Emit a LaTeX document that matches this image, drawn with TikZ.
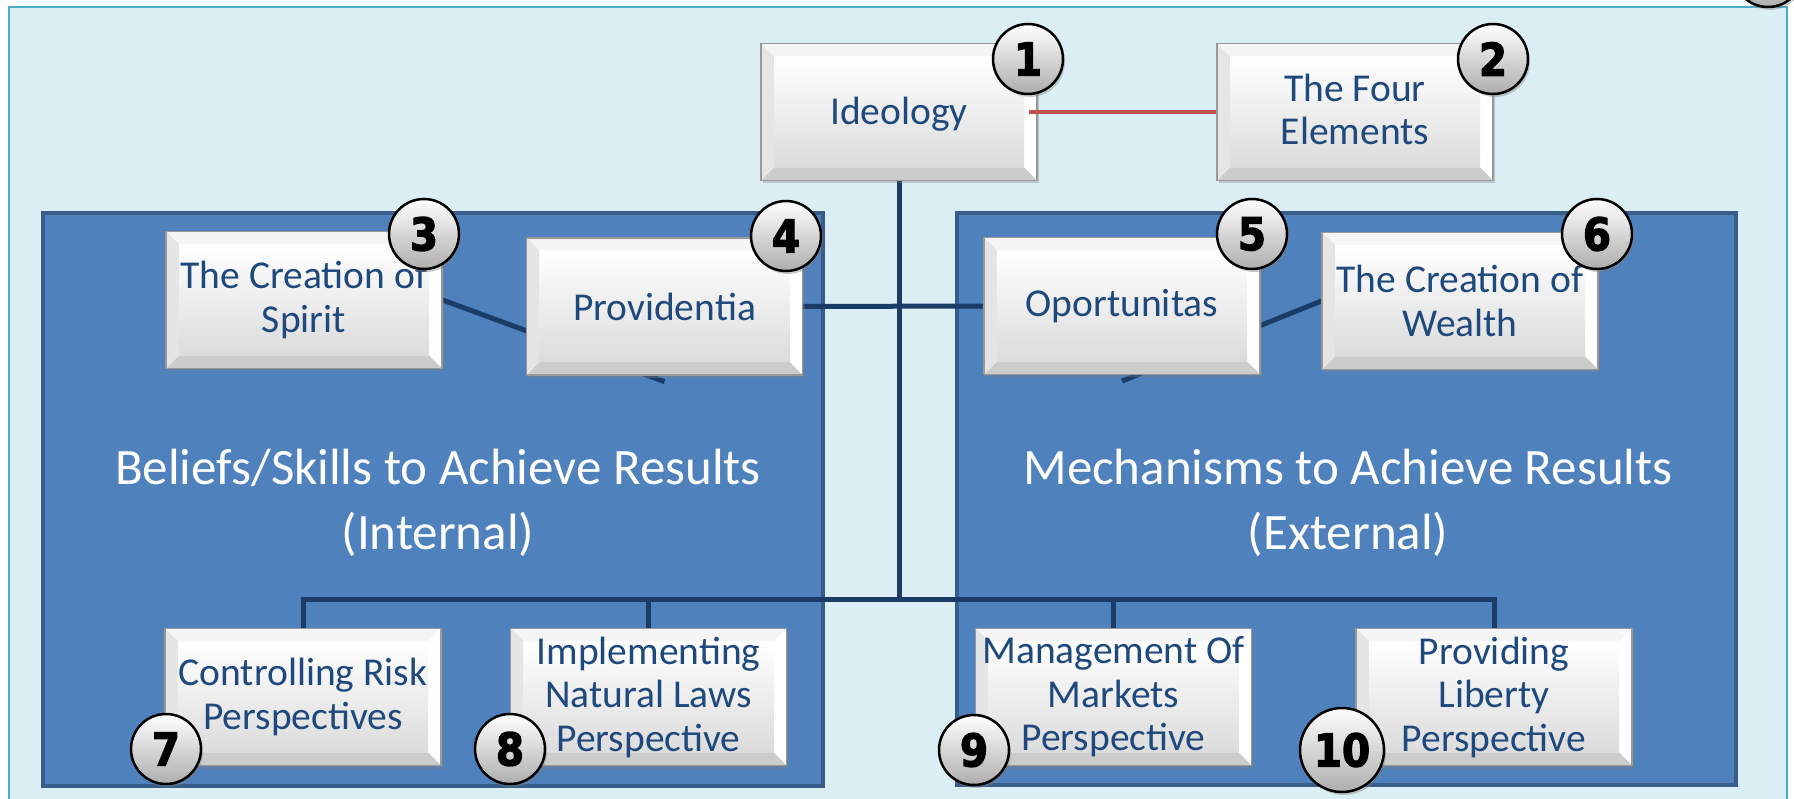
\documentclass[tikz,border=0pt]{standalone}
\usepackage{fontspec}
\usepackage{graphicx}
\setmainfont{Carlito}
\newfontfamily\numfont{DejaVu Sans Bold}[FakeBold=3]
\usetikzlibrary{shadows,calc}
\definecolor{bgfill}{RGB}{218,238,243}
\definecolor{bgline}{RGB}{75,172,198}
\definecolor{panelfill}{RGB}{79,129,189}
\definecolor{panelline}{RGB}{56,93,138}
\definecolor{trunkc}{RGB}{28,60,104}
\definecolor{redc}{RGB}{192,80,77}
\definecolor{boxtext}{RGB}{31,73,125}
\newcommand\boxfont{\fontsize{39.5}{43.5}\selectfont}
\newcommand\titlefont{\fontsize{51}{65}\selectfont}
\newcommand\numstyle{\fontsize{45}{45}\selectfont\numfont}
\newcommand\dg[1]{\scalebox{0.9}[1]{#1}}
\newcommand\lowr[1]{\raisebox{-2.5pt}[\height][\depth]{#1}}
\pgfdeclarelayer{bg}
\pgfdeclarelayer{links}
\pgfsetlayers{bg,links,main}
\tikzset{
  bevelbox/.style={rectangle, draw=black!40, line width=1.2pt, fill=black!8,
    minimum width=276pt, minimum height=137pt, inner sep=0pt, align=center,
    text=boxtext, font=\boxfont,
    drop shadow={shadow xshift=2pt, shadow yshift=-3pt, opacity=0.35},
    path picture={
      \path (path picture bounding box.south west) coordinate (bbsw)
            (path picture bounding box.north east) coordinate (bbne)
            (path picture bounding box.north west) coordinate (bbnw)
            (path picture bounding box.south east) coordinate (bbse);
      \fill[black!4] (bbnw) -- (bbne) -- ([xshift=-13pt,yshift=-13pt]bbne) -- ([xshift=13pt,yshift=-13pt]bbnw) -- cycle;
      \fill[white] (bbne) -- (bbse) -- ([xshift=-13pt,yshift=13pt]bbse) -- ([xshift=-13pt,yshift=-13pt]bbne) -- cycle;
      \fill[black!20] (bbse) -- (bbsw) -- ([xshift=13pt,yshift=13pt]bbsw) -- ([xshift=-13pt,yshift=13pt]bbse) -- cycle;
      \fill[black!10] (bbsw) -- (bbnw) -- ([xshift=13pt,yshift=-13pt]bbnw) -- ([xshift=13pt,yshift=13pt]bbsw) -- cycle;
      \shade[top color=white, bottom color=black!14] ([xshift=13pt,yshift=13pt]bbsw) rectangle ([xshift=-13pt,yshift=-13pt]bbne);
    }},
  badge/.style={circle, draw=black, line width=2.5pt, minimum size=70pt, inner sep=0pt,
    top color=white, bottom color=black!32, font=\numstyle,
    drop shadow={shadow xshift=2pt, shadow yshift=-3pt, opacity=0.4}},
  panel/.style={rectangle, fill=panelfill, draw=panelline, line width=3.5pt, inner sep=0pt},
  paneltitle/.style={align=center, text=white, font=\titlefont},
  trunk/.style={draw=trunkc, line width=5pt},
  redlink/.style={draw=redc, line width=4pt}
}
\begin{document}
\begin{tikzpicture}[x=1pt,y=-1pt]
\useasboundingbox (0,0) rectangle (1794,799);
\begin{pgfonlayer}{bg}
  \fill[bgfill] (9,7) rectangle (1787,830);
  \draw[bgline, line width=2pt] (9,7) rectangle (1787,830);
  \node[panel, minimum width=780pt, minimum height=573pt] (lpanel) at (433,499.5) {};
  \node[panel, minimum width=779pt, minimum height=572pt] (rpanel) at (1346.5,499) {};
\end{pgfonlayer}

\node[paneltitle] (ltitle) at (438,503) {Beliefs/Skills to Achieve Results\\(Internal)};
\node[paneltitle] (rtitle) at (1348,503) {Mechanisms to Achieve Results\\(External)};

% boxes
\node[bevelbox] (ideo)   at (899,112)   {\lowr{Ideology}};
\node[bevelbox] (four)   at (1355,112) {\lowr{\begin{tabular}{@{}c@{}}The Four\\Elements\end{tabular}}};
\node[bevelbox] (spirit) at (304,300)   {The Creation of\\Spirit};
\node[bevelbox] (prov)   at (664.5,306.5) {Providentia};
\node[bevelbox] (oport)  at (1122,306)  {Oportunitas};
\node[bevelbox] (wealth) at (1460,301)  {The Creation of\\Wealth};
\node[bevelbox] (ctrl)   at (303,697)   {Controlling Risk\\Perspectives};
\node[bevelbox] (impl)   at (648.5,697) {Implementing\\Natural Laws\\Perspective};
\node[bevelbox] (mgmt)   at (1113.5,697) {Management Of\\Markets\\Perspective};
\node[bevelbox] (prvl)   at (1494,697)  {Providing\\Liberty\\Perspective};

% connectors
\coordinate (bus) at (899,599);
\begin{pgfonlayer}{links}
  \draw[trunk] (ideo.south) -- (bus);
  \draw[trunk] (prov.east) -- (oport.west);
  \draw[trunk] (ctrl.north) |- (bus) -| (prvl.north);
  \draw[trunk] (impl.north) -- (impl.north |- bus);
  \draw[trunk] (mgmt.north) -- (mgmt.north |- bus);
  \draw[trunk] (spirit.east) -- ($(prov.south)+(0,6)$);
  \draw[trunk] (wealth.west) -- ($(oport.south)+(0,6)$);
\end{pgfonlayer}
\draw[redlink] ($(ideo.east)+(-9,0)$) -- (four.west);

% badges
\node[badge] (n1)  at (1028,59)  {\dg{1}};
\node[badge] (n2)  at (1493,59)  {\dg{2}};
\node[badge] (n3)  at (424,234)  {\dg{3}};
\node[badge] (n4)  at (786,236)  {\dg{4}};
\node[badge] (n5)  at (1252,234) {\dg{5}};
\node[badge] (n6)  at (1597,234) {\dg{6}};
\node[badge] (n7)  at (166,749)  {\dg{7}};
\node[badge] (n8)  at (510,749)  {\dg{8}};
\node[badge] (n9)  at (974,750)  {\dg{9}};
\node[badge, minimum size=84pt] (n10) at (1342,750) {\dg{10}};
\node[badge] (n0)  at (1768,-28) {};
\end{tikzpicture}
\end{document}
